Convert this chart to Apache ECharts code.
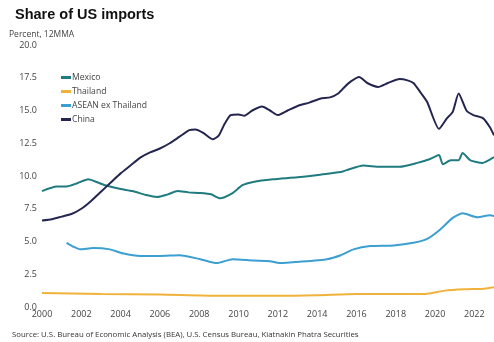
<!DOCTYPE html>
<html>
<head>
<meta charset="utf-8">
<script src="https://cdn.jsdelivr.net/npm/echarts@6/dist/echarts.min.js"></script>
<style>
  html, body { margin: 0; padding: 0; background: #fff; }
  #chart { width: 494px; height: 342px; }
</style>
</head>
<body>
<div id="chart"></div>
<script>
// Share of US imports by origin, percent, 12-month moving average
const chinaYears = [2000.0, 2000.5, 2001.0, 2001.5, 2002.0, 2002.5, 2003.0, 2003.5, 2004.0, 2004.5, 2005.0, 2005.5, 2006.0, 2006.5, 2007.0, 2007.5, 2007.8, 2008.2, 2008.7, 2009.0, 2009.3, 2009.6, 2010.0, 2010.3, 2010.7, 2011.2, 2011.6, 2012.0, 2012.5, 2013.1, 2013.6, 2014.15, 2014.66, 2015.07, 2015.4, 2015.7, 2016.14, 2016.55, 2017.1, 2017.6, 2018.2, 2018.6, 2018.9, 2019.3, 2019.6, 2020.2, 2020.6, 2020.9, 2021.2, 2021.6, 2021.95, 2022.45, 2022.8, 2023.0];
const chinaShare = [6.6, 6.7, 6.9, 7.1, 7.5, 8.1, 8.8, 9.5, 10.2, 10.8, 11.4, 11.8, 12.1, 12.5, 13.0, 13.5, 13.55, 13.3, 12.8, 13.1, 14.0, 14.65, 14.7, 14.6, 15.0, 15.3, 15.0, 14.65, 15.0, 15.4, 15.6, 15.9, 16.0, 16.3, 16.8, 17.2, 17.55, 17.1, 16.8, 17.1, 17.4, 17.3, 17.1, 16.3, 15.65, 13.6, 14.4, 14.9, 16.3, 15.0, 14.65, 14.4, 13.7, 13.1];

const mexicoYears = [2000.0, 2000.75, 2001.25, 2001.8, 2002.35, 2002.85, 2003.3, 2004.0, 2004.6, 2005.3, 2005.85, 2006.4, 2006.9, 2007.45, 2008.05, 2008.6, 2009.06, 2009.7, 2010.2, 2010.75, 2011.75, 2013.0, 2014.15, 2015.2, 2015.5, 2016.35, 2017.2, 2018.2, 2019.1, 2019.75, 2020.2, 2020.4, 2020.8, 2021.2, 2021.4, 2021.8, 2022.4, 2023.0];
const mexicoShare = [8.85, 9.2, 9.2, 9.45, 9.75, 9.5, 9.25, 9.0, 8.85, 8.55, 8.4, 8.6, 8.85, 8.75, 8.7, 8.6, 8.3, 8.7, 9.3, 9.55, 9.75, 9.9, 10.1, 10.3, 10.45, 10.8, 10.7, 10.7, 11.0, 11.3, 11.6, 10.9, 11.2, 11.2, 11.75, 11.2, 11.0, 11.45];

const aseanYears = [2001.25, 2001.6, 2001.93, 2002.6, 2003.46, 2004.1, 2005.0, 2006.0, 2007.0, 2008.05, 2008.9, 2009.7, 2010.75, 2011.6, 2012.1, 2013.1, 2014.5, 2015.2, 2015.85, 2016.7, 2017.9, 2018.9, 2019.6, 2020.25, 2020.9, 2021.4, 2022.15, 2022.8, 2023.0];
const aseanShare = [4.9, 4.6, 4.4, 4.5, 4.4, 4.1, 3.9, 3.9, 3.95, 3.65, 3.35, 3.65, 3.55, 3.5, 3.35, 3.45, 3.65, 3.95, 4.4, 4.65, 4.7, 4.9, 5.2, 5.9, 6.8, 7.15, 6.85, 7.0, 6.95];

const thailandYears = [2000, 2003, 2006, 2009, 2012, 2014, 2016, 2018, 2019.5, 2020.5, 2021.5, 2022.5, 2023];
const thailandShare = [1.07, 1.0, 0.95, 0.85, 0.85, 0.9, 1.0, 1.0, 1.0, 1.25, 1.35, 1.4, 1.5];

const seriesNames = ['Mexico', 'Thailand', 'ASEAN ex Thailand', 'China'];
const seriesColors = ['#1f7b80', '#f0b23a', '#3b9fd1', '#24264f'];

const pair = (xs, ys) => xs.map((x, i) => [x, ys[i]]);
const seriesData = [
  pair(mexicoYears, mexicoShare),
  pair(thailandYears, thailandShare),
  pair(aseanYears, aseanShare),
  pair(chinaYears, chinaShare)
];

const labelFont = 'Open Sans, Noto Sans, sans-serif';

const chart = echarts.init(document.getElementById('chart'), null, { renderer: 'canvas' });
chart.setOption({
  animation: false,
  backgroundColor: '#ffffff',
  title: [
    {
      text: 'Share of US imports',
      left: 10, top: 2,
      textStyle: { fontFamily: 'Liberation Sans, Arial, sans-serif', fontSize: 14.5, fontWeight: 'bold', color: '#111' }
    },
    {
      text: 'Percent, 12MMA',
      left: 4, top: 25,
      textStyle: { fontFamily: labelFont, fontSize: 8.5, fontWeight: 'normal', color: '#444' }
    },
    {
      text: 'Source: U.S. Bureau of Economic Analysis (BEA), U.S. Census Bureau, Kiatnakin Phatra Securities',
      left: 7, top: 326,
      textStyle: { fontFamily: labelFont, fontSize: 7.8, fontWeight: 'normal', color: '#333' }
    }
  ],
  legend: {
    orient: 'vertical',
    left: 56, top: 68,
    itemWidth: 10, itemHeight: 3, itemGap: 5,
    icon: 'rect',
    data: seriesNames,
    textStyle: { fontFamily: labelFont, fontSize: 8.6, color: '#444', padding: [0, 0, 0, -4] }
  },
  grid: { left: 42, right: 0, top: 45, bottom: 35, containLabel: false },
  xAxis: {
    type: 'value',
    min: 2000, max: 2023, interval: 2,
    axisLine: { show: false },
    axisTick: { show: false },
    splitLine: { show: false },
    axisLabel: {
      showMaxLabel: false,
      margin: 3,
      fontFamily: labelFont, fontSize: 9, color: '#444',
      formatter: v => String(v)
    }
  },
  yAxis: {
    type: 'value',
    min: 0, max: 20, interval: 2.5,
    axisLine: { show: false },
    axisTick: { show: false },
    splitLine: { show: false },
    axisLabel: {
      margin: 5,
      fontFamily: labelFont, fontSize: 9, color: '#444',
      formatter: v => v.toFixed(1)
    }
  },
  series: seriesNames.map((name, i) => ({
    name,
    type: 'line',
    data: seriesData[i],
    showSymbol: false,
    smooth: 0.2,
    color: seriesColors[i],
    lineStyle: { width: 2, color: seriesColors[i] },
    z: i === 3 ? 5 : 3
  }))
});
</script>
</body>
</html>
